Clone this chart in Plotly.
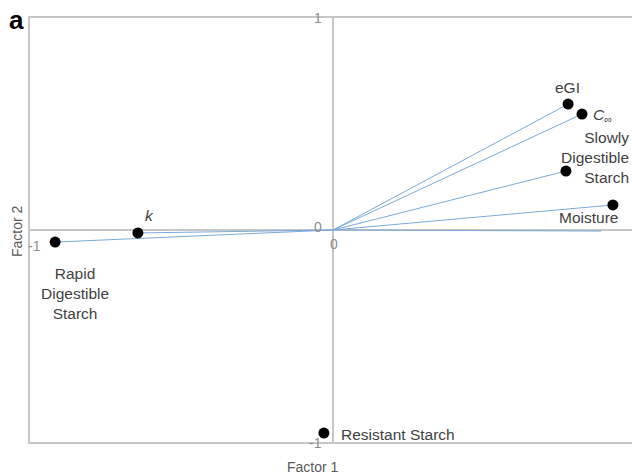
import plotly.graph_objects as go

# Data: factor loadings
labels = ["eGI", "<i>C</i><sub>∞</sub>", "Slowly<br>Digestible<br>Starch", "Moisture",
          "<i>k</i>", "Rapid<br>Digestible<br>Starch", "Resistant Starch"]
factor1 = [0.776, 0.822, 0.769, 0.924, -0.644, -0.917, -0.030]
factor2 = [0.594, 0.547, 0.278, 0.118, -0.014, -0.057, -0.958]
has_vector = [True, True, True, True, True, True, False]
# unlabeled vector drawn as a line only
extra_f1 = [0.885]
extra_f2 = [-0.005]

# label placement (styling)
label_style = [
    dict(xshift=-1, yshift=17, xanchor="center", align="center"),
    dict(xshift=9, yshift=-1, xanchor="left", align="left"),
    dict(xshift=65, yshift=14, xanchor="right", align="right"),
    dict(xshift=-24, yshift=-13, xanchor="center", align="center"),
    dict(xshift=12, yshift=17, xanchor="center", align="center"),
    dict(xshift=20, yshift=-51, xanchor="center", align="center"),
    dict(xshift=15, yshift=-1, xanchor="left", align="left"),
]

FONT = "Liberation Sans, Arial, sans-serif"
LINE_BLUE = "#7ba9d9"
AX_GRAY = "#c6c6c6"

fig = go.Figure()

# loading lines from origin
lx, ly = [], []
for x, y, v in zip(factor1 + extra_f1, factor2 + extra_f2, has_vector + [True]):
    if v:
        lx += [0, x, None]
        ly += [0, y, None]
fig.add_trace(go.Scatter(x=lx, y=ly, mode="lines",
                         line=dict(color=LINE_BLUE, width=1), hoverinfo="skip"))

fig.add_trace(go.Scatter(x=factor1, y=factor2, mode="markers",
                         marker=dict(color="black", size=11), hoverinfo="skip"))

annotations = []
for lab, x, y, st in zip(labels, factor1, factor2, label_style):
    annotations.append(dict(x=x, y=y, xref="x", yref="y", text=lab, showarrow=False,
                            yanchor="middle", font=dict(family=FONT, size=15.5, color="#3f3f3f"),
                            **st))

# tick labels
tick_color = "#8c8c8c"
tick_font = dict(family=FONT, size=14, color=tick_color)
ticks = [
    (0, 1, "1", -15, 0),
    (0, 0, "0", -15, 3),
    (0, 0, "0", 1, -14),
    (-1, 0, "-1", 4, -16),
    (0, -1, "-1", -17, -1),
]
for x, y, t, xs, ys in ticks:
    annotations.append(dict(x=x, y=y, xref="x", yref="y", text=t, showarrow=False,
                            xanchor="center", yanchor="middle",
                            xshift=xs, yshift=ys, font=tick_font))

W, H = 632, 475
L, R, T, B = 30, 0, 18, 33
pw, ph = W - L - R, H - T - B
def to_paper(px, py):
    return (px - L) / pw, (H - B - py) / ph

x1, y1 = to_paper(313, 467)
annotations.append(dict(x=x1, y=y1, xref="paper", yref="paper", text="Factor 1",
                        xanchor="center", yanchor="middle",
                        showarrow=False, font=dict(family=FONT, size=14, color="#595959")))
x2, y2 = to_paper(17, 231)
annotations.append(dict(x=x2, y=y2, xref="paper", yref="paper", text="Factor 2",
                        xanchor="center", yanchor="middle",
                        showarrow=False, textangle=-90,
                        font=dict(family=FONT, size=14, color="#595959")))
x3, y3 = to_paper(16, 20)
annotations.append(dict(x=x3, y=y3, xref="paper", yref="paper", text="<b>a</b>",
                        xanchor="center", yanchor="middle",
                        showarrow=False, font=dict(family=FONT, size=26, color="black")))

fig.update_layout(
    width=W, height=H,
    margin=dict(l=L, r=R, t=T, b=B),
    paper_bgcolor="white", plot_bgcolor="white",
    showlegend=False,
    annotations=annotations,
    xaxis=dict(range=[-1, 0.987], showgrid=False, zeroline=True, zerolinecolor=AX_GRAY,
               zerolinewidth=1.5, showline=True, linecolor=AX_GRAY, linewidth=1.5,
               mirror=True, showticklabels=False, ticks=""),
    yaxis=dict(range=[-1, 1], showgrid=False, zeroline=True, zerolinecolor=AX_GRAY,
               zerolinewidth=1.5, showline=True, linecolor=AX_GRAY, linewidth=1.5,
               mirror=False, showticklabels=False, ticks=""),
)

fig.write_html("out.html", config={"displayModeBar": False},
               post_script="document.body.style.margin='0';")
